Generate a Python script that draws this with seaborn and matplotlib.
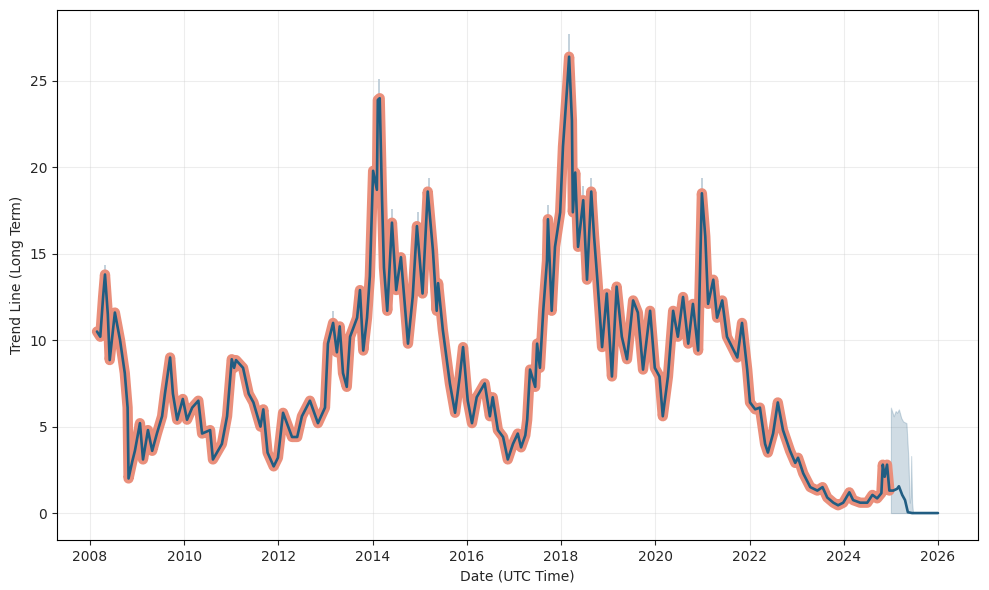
import numpy as np
import pandas as pd
import matplotlib
matplotlib.use("Agg")
import matplotlib.pyplot as plt
import matplotlib.dates as mdates
import seaborn as sns

# ---- historical values (decimal year, value) ----
hist_years = [
    2008.15, 2008.22, 2008.28, 2008.32, 2008.38, 2008.42, 2008.53, 2008.64, 2008.74, 2008.80,
    2008.82, 2008.90, 2008.955, 2009.06, 2009.125, 2009.23, 2009.32, 2009.42, 2009.53, 2009.59,
    2009.70, 2009.76, 2009.85, 2009.97, 2010.06, 2010.17, 2010.30, 2010.38, 2010.55, 2010.61,
    2010.80, 2010.91, 2011.01, 2011.06, 2011.10, 2011.25, 2011.37, 2011.47, 2011.62, 2011.68,
    2011.77, 2011.90, 2011.99, 2012.10, 2012.29, 2012.40, 2012.50, 2012.67, 2012.84, 2012.99,
    2013.05, 2013.16, 2013.24, 2013.30, 2013.37, 2013.45, 2013.52, 2013.67, 2013.73, 2013.80,
    2013.88, 2013.94, 2014.01, 2014.09, 2014.11, 2014.15, 2014.20, 2014.24, 2014.31, 2014.41,
    2014.50, 2014.60, 2014.75, 2014.85, 2014.94, 2015.06, 2015.17, 2015.28, 2015.36, 2015.39,
    2015.49, 2015.64, 2015.75, 2015.85, 2015.92, 2016.02, 2016.11, 2016.21, 2016.38, 2016.49,
    2016.55, 2016.66, 2016.77, 2016.87, 2016.98, 2017.08, 2017.15, 2017.24, 2017.28, 2017.34,
    2017.45, 2017.49, 2017.55, 2017.62, 2017.70, 2017.72, 2017.80, 2017.87, 2017.98, 2018.04,
    2018.13, 2018.17, 2018.23, 2018.25, 2018.30, 2018.36, 2018.47, 2018.55, 2018.64, 2018.70,
    2018.77, 2018.87, 2018.97, 2019.08, 2019.18, 2019.29, 2019.40, 2019.53, 2019.63, 2019.74,
    2019.89, 2019.99, 2020.09, 2020.16, 2020.27, 2020.38, 2020.48, 2020.59, 2020.70, 2020.80,
    2020.91, 2020.99, 2021.06, 2021.12, 2021.23, 2021.31, 2021.42, 2021.52, 2021.63, 2021.74,
    2021.84, 2021.95, 2022.01, 2022.12, 2022.22, 2022.33, 2022.39, 2022.50, 2022.60, 2022.71,
    2022.86, 2022.97, 2023.03, 2023.14, 2023.29, 2023.44, 2023.55, 2023.65, 2023.78, 2023.88,
    2023.99, 2024.12, 2024.20, 2024.35, 2024.50, 2024.61, 2024.71, 2024.80, 2024.83, 2024.87,
    2024.92, 2024.97,
]
hist_values = [
    10.5, 10.2, 12.5, 13.8, 11.5, 8.85, 11.6, 10.0, 8.1, 6.1,
    2.0, 3.0, 3.6, 5.2, 3.1, 4.8, 3.6, 4.6, 5.6, 6.9,
    9.0, 6.9, 5.4, 6.6, 5.4, 6.1, 6.5, 4.6, 4.8, 3.1,
    4.0, 5.6, 8.9, 8.4, 8.85, 8.4, 6.9, 6.4, 5.0, 6.0,
    3.5, 2.7, 3.2, 5.8, 4.4, 4.4, 5.6, 6.5, 5.2, 6.1,
    9.8, 11.0, 9.3, 10.8, 8.1, 7.3, 10.2, 11.3, 12.9, 9.4,
    11.3, 13.7, 19.8, 18.7, 23.9, 24.0, 18.1, 14.2, 11.7, 16.8,
    12.9, 14.8, 9.8, 12.5, 16.6, 12.7, 18.6, 15.2, 11.7, 13.3,
    10.6, 7.5, 5.8, 7.9, 9.6, 6.5, 5.2, 6.7, 7.5, 5.6,
    6.7, 4.8, 4.4, 3.1, 4.0, 4.6, 3.8, 4.5, 5.4, 8.3,
    7.3, 9.8, 8.4, 11.7, 14.6, 17.0, 11.7, 15.4, 17.4, 21.2,
    24.7, 26.4, 22.7, 17.4, 19.7, 15.4, 18.1, 13.5, 18.6, 16.0,
    13.5, 9.6, 12.7, 7.9, 13.1, 10.2, 8.9, 12.3, 11.6, 8.3,
    11.7, 8.4, 7.9, 5.6, 7.9, 11.7, 10.2, 12.5, 9.8, 12.1,
    9.4, 18.5, 16.0, 12.1, 13.5, 11.3, 12.3, 10.2, 9.6, 9.0,
    11.0, 8.3, 6.4, 6.0, 6.1, 4.0, 3.5, 4.6, 6.4, 4.8,
    3.6, 2.9, 3.2, 2.3, 1.5, 1.3, 1.5, 0.9, 0.6, 0.45,
    0.6, 1.2, 0.75, 0.6, 0.6, 1.05, 0.85, 1.15, 2.8, 2.1,
    2.8, 1.3,
]

# ---- forecast trend ----
fc_years = [2024.97, 2025.05, 2025.13, 2025.17, 2025.24, 2025.30, 2025.36, 2025.45, 2025.70, 2026.00]
fc_values = [1.3, 1.3, 1.4, 1.55, 1.05, 0.75, 0.05, 0.0, 0.0, 0.0]

# ---- forecast uncertainty band ----
band_years = [2025.00, 2025.06, 2025.10, 2025.13, 2025.17, 2025.22, 2025.26, 2025.33, 2025.37,
              2025.40, 2025.42, 2025.43, 2025.45, 2025.47]
band_upper = [6.1, 5.6, 5.9, 5.8, 6.0, 5.5, 5.3, 5.2, 3.2, 0.6, 1.0, 3.3, 0.6, 0.0]
band_lower = [0.0, 0.0, 0.0, 0.0, 0.0, 0.0, 0.0, 0.0, 0.0, 0.0, 0.0, 0.0, 0.0, 0.0]

# ---- spikes of the historical band visible above the line ----
spike_years = [2008.33, 2014.13, 2018.17, 2020.99, 2015.19, 2014.42, 2018.64, 2017.72, 2018.47,
               2013.16, 2014.96, 2017.62]
spike_low = [13.0, 22.5, 25.0, 17.5, 17.5, 15.5, 17.5, 16.0, 17.0, 10.0, 15.5, 10.5]
spike_high = [14.35, 25.1, 27.7, 19.4, 19.4, 17.6, 19.4, 17.8, 18.9, 11.7, 17.4, 12.4]


def to_dt(years):
    out = []
    for y in years:
        yi = int(np.floor(y))
        out.append(pd.Timestamp(yi, 1, 1) + pd.Timedelta(days=(y - yi) * 365.25))
    return out


df_hist = pd.DataFrame({"date": to_dt(hist_years), "value": hist_values})
df_trend = pd.DataFrame({"date": to_dt(hist_years + fc_years[1:]),
                         "value": hist_values + fc_values[1:]})

sns.set_style("ticks")
plt.rcParams["font.family"] = ["DejaVu Sans"]

fig, ax = plt.subplots(figsize=(9.89, 5.90), dpi=100)
fig.subplots_adjust(left=0.0576, right=0.9889, top=0.983, bottom=0.0847)

band_color = "#2a6085"
ax.fill_between(to_dt(band_years), band_lower, band_upper, color=band_color,
                alpha=0.22, linewidth=0.8, edgecolor=(0.16, 0.38, 0.52, 0.3))
ax.vlines(to_dt(spike_years), spike_low, spike_high, color="#b9cad6", linewidth=1.2)

sns.lineplot(data=df_hist, x="date", y="value", ax=ax, color="#ea8f7b",
             linewidth=7.4, solid_joinstyle="round", solid_capstyle="round")
sns.lineplot(data=df_trend, x="date", y="value", ax=ax, color="#215d82",
             linewidth=1.9)

xl = to_dt([2007.30, 2026.85])
ax.set_xlim(xl[0], xl[1])
ax.set_ylim(-1.56, 29.1)
ax.xaxis.set_major_locator(mdates.YearLocator(2))
ax.xaxis.set_major_formatter(mdates.DateFormatter("%Y"))
ax.grid(True, alpha=0.35)
for s in ax.spines.values():
    s.set_visible(True)
    s.set_color("black")
    s.set_linewidth(0.8)
ax.set_xlabel("Date (UTC Time)", fontsize=10)
ax.set_ylabel("Trend Line (Long Term)", fontsize=10)
ax.tick_params(labelsize=10)

fig.savefig("out.png", dpi=100)
